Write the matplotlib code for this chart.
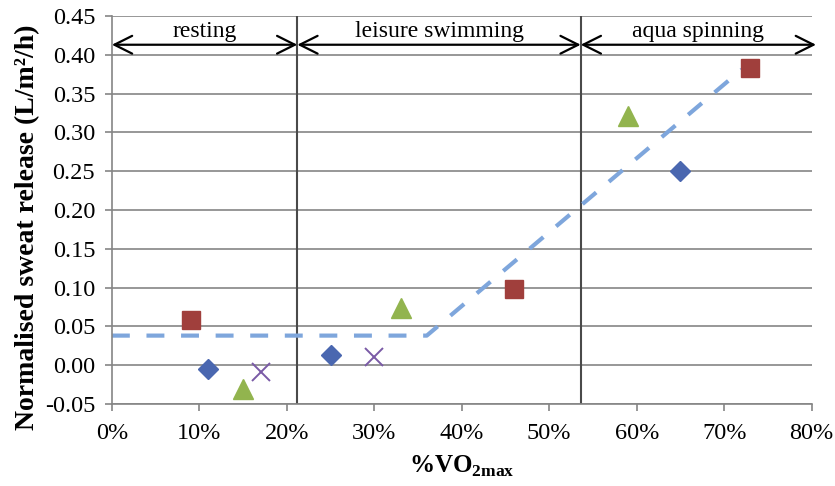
import matplotlib
matplotlib.use("Agg")
import matplotlib.pyplot as plt
from matplotlib.ticker import FuncFormatter

# data
sq_x = [9, 46, 73]
sq_y = [0.058, 0.098, 0.383]
dia_x = [11, 25, 65]
dia_y = [-0.005, 0.013, 0.250]
tri_x = [15, 33, 59]
tri_y = [-0.031, 0.073, 0.321]
cross_x = [17, 30]
cross_y = [-0.009, 0.011]
fit_x = [0, 36, 72]
fit_y = [0.038, 0.038, 0.381]

phase_names = ["resting", "leisure swimming", "aqua spinning"]
phase_edges = [0, 21.2, 53.6, 80.5]

plt.rcParams['font.family'] = ['Liberation Serif', 'DejaVu Serif']
plt.rcParams['mathtext.fontset'] = 'custom'
plt.rcParams['mathtext.rm'] = 'Liberation Serif'
plt.rcParams['mathtext.bf'] = 'Liberation Serif:bold'

fig = plt.figure(figsize=(8.35, 4.86), dpi=100)
ax = fig.add_axes([0.134, 0.169, 0.838, 0.798])

# grid
for yv in [-0.05, 0, 0.05, 0.1, 0.15, 0.2, 0.25, 0.3, 0.35, 0.4, 0.45]:
    ax.axhline(yv, color="#858585", lw=1.2, zorder=0)
for xv in phase_edges[1:3]:
    ax.axvline(xv, color="#4a4a4a", lw=1.5, zorder=1)

ax.plot(fit_x, fit_y, ls=(0, (4.3, 4)), color="#7ea6dc", lw=3, zorder=2)

ax.plot(sq_x, sq_y, "s", color="#a03f3c", ms=13, zorder=3)
ax.plot(dia_x, dia_y, "D", color="#4a67b0", ms=10, zorder=3)
ax.plot(tri_x, tri_y, "^", color="#92b44e", ms=14, zorder=3)
ax.plot(cross_x, cross_y, "x", color="#7a5aa6", ms=13, mew=1.4, zorder=3)

# phase arrows
for i, name in enumerate(phase_names):
    x0, x1 = phase_edges[i], phase_edges[i + 1]
    ax.annotate("", xy=(x0, 0.413), xytext=(x1, 0.413),
                arrowprops=dict(arrowstyle="<->", color="black", lw=1.6,
                                mutation_scale=32, shrinkA=0, shrinkB=0),
                annotation_clip=False, zorder=4)
    ax.text((x0 + x1) / 2, 0.417, name, ha="center", va="bottom", fontsize=17)

ax.set_xlim(0, 80)
ax.set_ylim(-0.05, 0.45)
ax.set_xticks(range(0, 81, 10))
ax.set_yticks([-0.05, 0, 0.05, 0.1, 0.15, 0.2, 0.25, 0.3, 0.35, 0.4, 0.45])
ax.xaxis.set_major_formatter(FuncFormatter(lambda v, p: "%d%%" % v))
ax.yaxis.set_major_formatter(FuncFormatter(lambda v, p: "%.2f" % v))
ax.tick_params(labelsize=17.5, color="#858585", length=5, width=1.2)
ax.tick_params(axis="x", pad=9)
ax.tick_params(axis="y", pad=7)

for s in ["top", "right"]:
    ax.spines[s].set_visible(False)
for s in ["left", "bottom"]:
    ax.spines[s].set_color("#858585")
    ax.spines[s].set_linewidth(1.2)

ax.set_xlabel(r"%VO$_{\mathbf{2max}}$", fontsize=18, fontweight="bold", labelpad=7)
ax.set_ylabel("Normalised sweat release (L/m²/h)", fontsize=20, fontweight="bold")
ax.yaxis.set_label_coords(-0.103, 0.455)

fig.savefig("out.png", dpi=100)
